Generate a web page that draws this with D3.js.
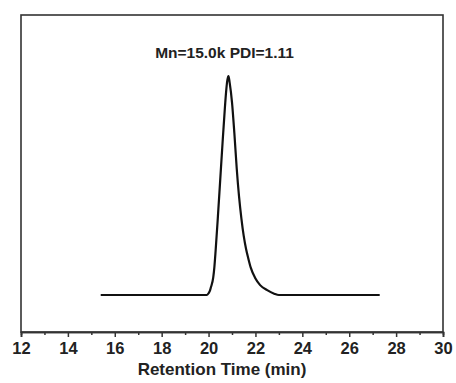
<html>
<head>
  <meta charset="utf-8">
  <script src="https://d3js.org/d3.v7.min.js"></script>
  <style>
    body { margin: 0; background: #fff; }
    text { font-family: "Liberation Sans", Arial, sans-serif; font-weight: bold; fill: #222; }
  </style>
</head>
<body>
<svg id="chart" width="456" height="383"></svg>
<script>
// retention time (min) and normalised detector signal
var times = [15.4, 19.92, 20.0, 20.06, 20.1, 20.2, 20.25, 20.3, 20.4, 20.5, 20.6, 20.7, 20.75, 20.8, 20.85,
             20.9, 21.0, 21.1, 21.2, 21.3, 21.4, 21.5, 21.6, 21.7, 21.8, 22.0, 22.2, 22.5, 22.8, 23.0, 27.3];
var signal = [0, 0, 0.008, 0.02, 0.035, 0.08, 0.13, 0.2, 0.36, 0.53, 0.70, 0.86, 0.93, 0.98, 1.0,
              0.97, 0.88, 0.74, 0.58, 0.45, 0.35, 0.27, 0.21, 0.165, 0.125, 0.075, 0.045, 0.022, 0.006, 0, 0];
var xTicks = [12, 14, 16, 18, 20, 22, 24, 26, 28, 30];
var minorTicks = d3.range(13, 30, 2);
var note = "Mn=15.0k PDI=1.11";
var xTitle = "Retention Time (min)";

var svg = d3.select("#chart");
var mLeft = 21, mRight = 443, mTop = 15, mBottom = 332;

var x = d3.scaleLinear().domain([12, 30]).range([mLeft, mRight]);
var y = d3.scaleLinear().domain([0, 1]).range([295, 76]);

// frame
svg.append("rect").attr("x", mLeft).attr("y", mTop)
  .attr("width", mRight - mLeft).attr("height", mBottom - mTop)
  .attr("fill", "none").attr("stroke", "#333").attr("stroke-width", 1.6);

// bottom axis
var ax = svg.append("g").attr("transform", "translate(0," + mBottom + ")");
ax.call(d3.axisBottom(x).tickValues(xTicks).tickSize(5).tickPadding(5));
ax.append("g").call(d3.axisBottom(x).tickValues(minorTicks).tickSize(3).tickFormat(""));
ax.selectAll(".domain").attr("stroke", "#333").attr("stroke-width", 1.6);
ax.selectAll(".tick line").attr("stroke", "#333").attr("stroke-width", 1.5);
ax.selectAll(".tick text").attr("font-size", 16.5).attr("fill", "#222")
  .attr("font-family", "Liberation Sans, Arial, sans-serif").attr("font-weight", "bold");

svg.append("text").attr("x", 222).attr("y", 375)
  .attr("text-anchor", "middle").attr("font-size", 17).text(xTitle);

// trace
var pts = times.map(function (t, i) { return [t, signal[i]]; });
var line = d3.line().x(function (d) { return x(d[0]); }).y(function (d) { return y(d[1]); })
  .curve(d3.curveMonotoneX);
svg.append("path").datum(pts).attr("d", line)
  .attr("fill", "none").attr("stroke", "#111").attr("stroke-width", 2.2);

svg.append("text").attr("x", 224.5).attr("y", 58)
  .attr("text-anchor", "middle").attr("font-size", 15.5).text(note);
</script>
</body>
</html>
